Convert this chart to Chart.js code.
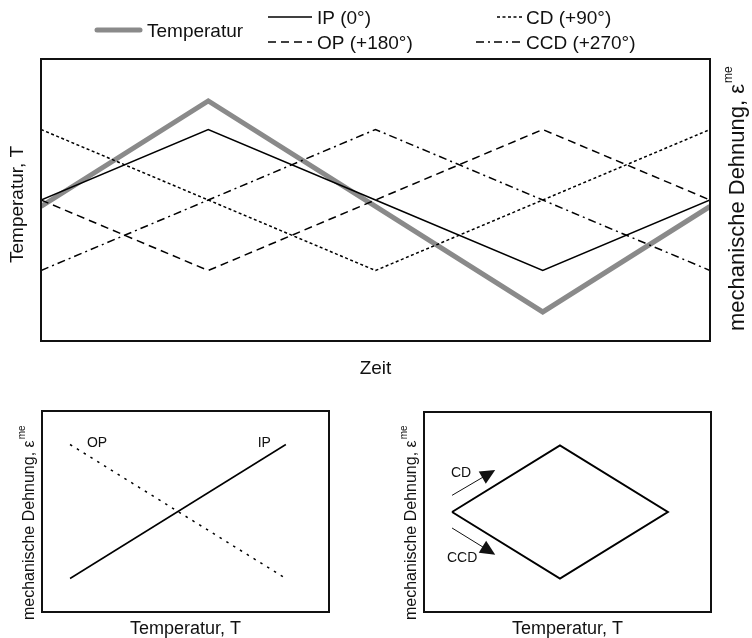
<!DOCTYPE html>
<html>
<head>
<meta charset="utf-8">
<script src="https://cdn.jsdelivr.net/npm/chart.js"></script>
<style>
    body { margin: 0; background: #fff; }
    #wrap { position: relative; width: 752px; height: 638px; }
    canvas { position: absolute; }
    #zeitChart { left: 0; top: 0; }
    #ipopChart { left: 0; top: 385px; }
    #cdccdChart { left: 376px; top: 385px; }
</style>
</head>
<body>
<div id="wrap">
    <canvas id="zeitChart" width="752" height="385"></canvas>
    <canvas id="ipopChart" width="376" height="253"></canvas>
    <canvas id="cdccdChart" width="376" height="253"></canvas>
</div>
<script>
// Zeitverlauf: eine Periode in Viertelschritten
const zeit = [0, 1, 2, 3, 4];
const temperatur = [0, 1, 0, -1, 0];
const dehnungIP = [0, 1, 0, -1, 0];
const dehnungOP = [0, -1, 0, 1, 0];
const dehnungCD = [1, 0, -1, 0, 1];
const dehnungCCD = [-1, 0, 1, 0, -1];

// Dehnung ueber Temperatur (unten links)
const tempLinie = [-1, 1];
const dehnLinieIP = [-1, 1];
const dehnLinieOP = [1, -1];

// Schleife CD / CCD (unten rechts)
const tempSchleife = [-1, 0, 1, 0, -1];
const dehnSchleife = [0, 1, 0, -1, 0];
const pfeilCD = [[-1.0, 0.25], [-0.6, 0.63]];
const pfeilCCD = [[-1.0, -0.24], [-0.6, -0.64]];

const FONT = "'Liberation Sans', Arial, sans-serif";
const INK = '#111';

const stile = {
    temperatur: { borderColor: '#8a8a8a', borderWidth: 5, borderDash: [] },
    ip: { borderColor: '#000', borderWidth: 1.5, borderDash: [] },
    op: { borderColor: '#000', borderWidth: 1.5, borderDash: [8, 5] },
    cd: { borderColor: '#000', borderWidth: 1.5, borderDash: [3, 2.5] },
    ccd: { borderColor: '#000', borderWidth: 1.5, borderDash: [8, 4, 2, 4] }
};

function punkte(xs, ys) {
    return xs.map((x, i) => ({ x: x, y: ys[i] }));
}

function text(ctx, str, x, y, size, align) {
    ctx.font = size + 'px ' + FONT;
    ctx.textAlign = align || 'center';
    ctx.textBaseline = 'alphabetic';
    ctx.fillStyle = INK;
    ctx.fillText(str, x, y);
}

// senkrechter Text (von unten nach oben), startY = unteres Ende
function textSenkrecht(ctx, str, sup, baseX, startY, size, supSize, supShift) {
    ctx.save();
    ctx.translate(baseX, startY);
    ctx.rotate(-Math.PI / 2);
    ctx.fillStyle = INK;
    ctx.textAlign = 'left';
    ctx.textBaseline = 'alphabetic';
    ctx.font = size + 'px ' + FONT;
    ctx.fillText(str, 0, 0);
    const w = ctx.measureText(str).width;
    if (sup) {
        ctx.font = supSize + 'px ' + FONT;
        ctx.fillText(sup, w + 1, supShift);
    }
    ctx.restore();
}

// Rahmen um die Zeichenflaeche
const rahmen = {
    id: 'rahmen',
    afterDatasetsDraw(chart) {
        const { ctx, chartArea: a } = chart;
        ctx.save();
        ctx.lineWidth = 2;
        ctx.strokeStyle = INK;
        ctx.strokeRect(a.left, a.top, a.right - a.left, a.bottom - a.top);
        ctx.restore();
    }
};

// Beschriftungen je Diagramm
const beschriftung = {
    id: 'beschriftung',
    afterDraw(chart, args, opts) {
        if (opts.zeichne) {
            chart.ctx.save();
            opts.zeichne(chart, chart.ctx);
            chart.ctx.restore();
        }
    }
};

function linienMuster(ctx, ds, x1, x2, y) {
    ctx.save();
    ctx.strokeStyle = ds.borderColor;
    ctx.lineWidth = ds.borderWidth;
    ctx.setLineDash(ds.borderDash || []);
    ctx.lineCap = ds.borderWidth > 3 ? 'round' : 'butt';
    ctx.beginPath();
    ctx.moveTo(x1, y);
    ctx.lineTo(x2, y);
    ctx.stroke();
    ctx.restore();
}

function pfeil(ctx, chart, p) {
    const xs = chart.scales.x, ys = chart.scales.y;
    const x1 = xs.getPixelForValue(p[0][0]), y1 = ys.getPixelForValue(p[0][1]);
    const x2 = xs.getPixelForValue(p[1][0]), y2 = ys.getPixelForValue(p[1][1]);
    const ang = Math.atan2(y2 - y1, x2 - x1);
    const len = 15, half = 7;
    ctx.strokeStyle = INK;
    ctx.fillStyle = INK;
    ctx.lineWidth = 1;
    ctx.beginPath();
    ctx.moveTo(x1, y1);
    ctx.lineTo(x2 - Math.cos(ang) * len * 0.8, y2 - Math.sin(ang) * len * 0.8);
    ctx.stroke();
    ctx.beginPath();
    ctx.moveTo(x2, y2);
    ctx.lineTo(x2 - Math.cos(ang) * len - Math.sin(ang) * half, y2 - Math.sin(ang) * len + Math.cos(ang) * half);
    ctx.lineTo(x2 - Math.cos(ang) * len + Math.sin(ang) * half, y2 - Math.sin(ang) * len - Math.cos(ang) * half);
    ctx.closePath();
    ctx.fill();
}

Chart.defaults.font.family = FONT;
Chart.defaults.animation = false;

const verstecktX = { type: 'linear', display: false };

// Oben: Zeitverlauf
new Chart(document.getElementById('zeitChart'), {
    type: 'line',
    data: {
        datasets: [
            { label: 'Temperatur', data: punkte(zeit, temperatur), yAxisID: 'yT', ...stile.temperatur, order: 5 },
            { label: 'IP (0°)', data: punkte(zeit, dehnungIP), yAxisID: 'yE', ...stile.ip },
            { label: 'OP (+180°)', data: punkte(zeit, dehnungOP), yAxisID: 'yE', ...stile.op },
            { label: 'CD (+90°)', data: punkte(zeit, dehnungCD), yAxisID: 'yE', ...stile.cd },
            { label: 'CCD (+270°)', data: punkte(zeit, dehnungCCD), yAxisID: 'yE', ...stile.ccd }
        ]
    },
    options: {
        responsive: false,
        layout: { padding: { left: 41, top: 59, right: 42, bottom: 44 } },
        elements: { point: { radius: 0 }, line: { tension: 0 } },
        scales: {
            x: { ...verstecktX, min: 0, max: 4 },
            yT: { type: 'linear', display: false, min: -1.275, max: 1.398 },
            yE: { type: 'linear', display: false, min: -2, max: 2 }
        },
        plugins: {
            legend: { display: false },
            tooltip: { enabled: false },
            beschriftung: {
                zeichne(chart, ctx) {
                    const ds = chart.data.datasets;
                    // Legende
                    linienMuster(ctx, ds[0], 97, 140, 30);
                    text(ctx, ds[0].label, 147, 37, 19, 'left');
                    linienMuster(ctx, ds[1], 268, 312, 17);
                    text(ctx, ds[1].label, 317, 24, 19, 'left');
                    linienMuster(ctx, ds[2], 268, 312, 42);
                    text(ctx, ds[2].label, 317, 49, 19, 'left');
                    linienMuster(ctx, ds[3], 497, 522, 17);
                    text(ctx, ds[3].label, 526, 24, 19, 'left');
                    linienMuster(ctx, ds[4], 476, 522, 42);
                    text(ctx, ds[4].label, 526, 49, 19, 'left');
                    // Achsen
                    const a = chart.chartArea;
                    text(ctx, 'Zeit', (a.left + a.right) / 2, 374, 19);
                    textSenkrecht(ctx, 'Temperatur, T', '', 23, 263, 19, 0, 0);
                    textSenkrecht(ctx, 'mechanische Dehnung, ε', 'me', 744, 331, 22, 12, -12);
                }
            }
        }
    },
    plugins: [rahmen, beschriftung]
});

const achsenUnten = {
    x: { ...verstecktX, min: -1.26, max: 1.4 },
    y: { type: 'linear', display: false, min: -1.5, max: 1.5 }
};

// Unten links: IP / OP
new Chart(document.getElementById('ipopChart'), {
    type: 'scatter',
    data: {
        datasets: [
            { label: 'IP', data: punkte(tempLinie, dehnLinieIP), showLine: true, ...stile.ip },
            { label: 'OP', data: punkte(tempLinie, dehnLinieOP), showLine: true, borderColor: '#000', borderWidth: 1.5, borderDash: [2.5, 5.5] }
        ]
    },
    options: {
        responsive: false,
        layout: { padding: { left: 42, top: 26, right: 47, bottom: 26 } },
        elements: { point: { radius: 0 } },
        scales: achsenUnten,
        plugins: {
            legend: { display: false },
            tooltip: { enabled: false },
            beschriftung: {
                zeichne(chart, ctx) {
                    const xs = chart.scales.x, ys = chart.scales.y;
                    text(ctx, 'OP', xs.getPixelForValue(-0.75), ys.getPixelForValue(0.96), 14);
                    text(ctx, 'IP', xs.getPixelForValue(0.8), ys.getPixelForValue(0.96), 14);
                    const a = chart.chartArea;
                    text(ctx, 'Temperatur, T', (a.left + a.right) / 2, 249, 18);
                    textSenkrecht(ctx, 'mechanische Dehnung, ε', 'me', 34, 235, 16, 10, -9);
                }
            }
        }
    },
    plugins: [rahmen, beschriftung]
});

// Unten rechts: CD / CCD Schleife
new Chart(document.getElementById('cdccdChart'), {
    type: 'scatter',
    data: {
        datasets: [
            { label: 'CD / CCD', data: punkte(tempSchleife, dehnSchleife), showLine: true, borderColor: '#000', borderWidth: 2 }
        ]
    },
    options: {
        responsive: false,
        layout: { padding: { left: 48, top: 27, right: 41, bottom: 26 } },
        elements: { point: { radius: 0 } },
        scales: achsenUnten,
        plugins: {
            legend: { display: false },
            tooltip: { enabled: false },
            beschriftung: {
                zeichne(chart, ctx) {
                    const xs = chart.scales.x, ys = chart.scales.y;
                    pfeil(ctx, chart, pfeilCD);
                    pfeil(ctx, chart, pfeilCCD);
                    text(ctx, 'CD', xs.getPixelForValue(-0.916), ys.getPixelForValue(0.52), 14);
                    text(ctx, 'CCD', xs.getPixelForValue(-0.907), ys.getPixelForValue(-0.75), 14);
                    const a = chart.chartArea;
                    text(ctx, 'Temperatur, T', (a.left + a.right) / 2, 249, 18);
                    textSenkrecht(ctx, 'mechanische Dehnung, ε', 'me', 40, 235, 16, 10, -9);
                }
            }
        }
    },
    plugins: [rahmen, beschriftung]
});
</script>
</body>
</html>
